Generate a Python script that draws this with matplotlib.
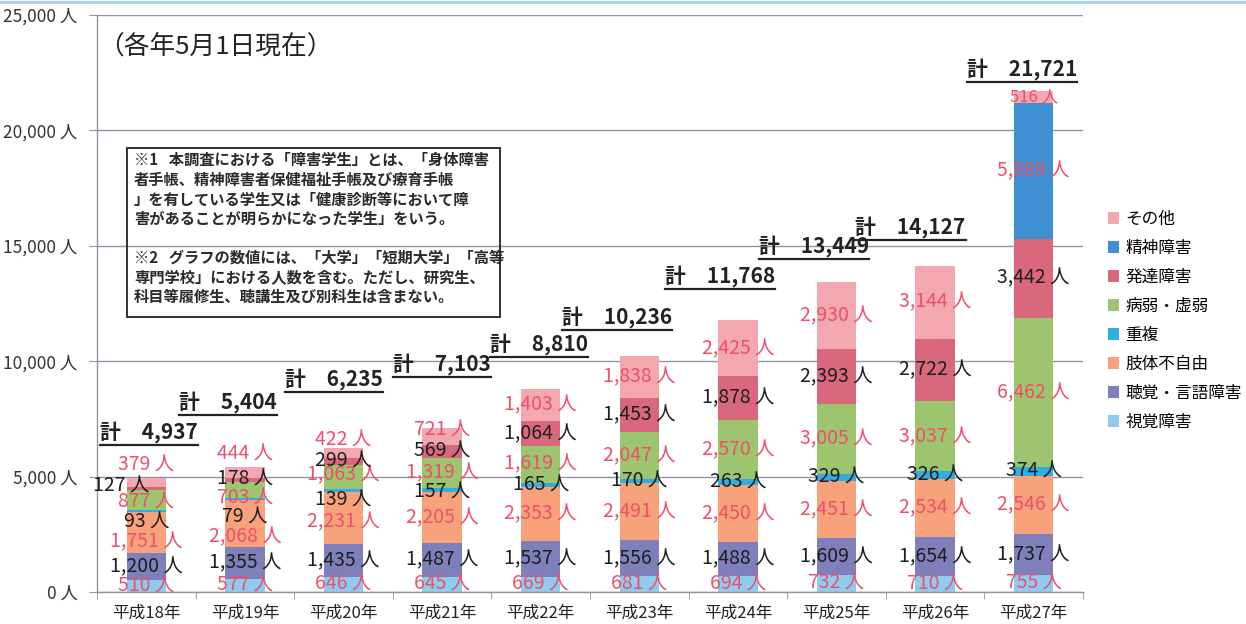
import matplotlib
matplotlib.use("Agg")
import matplotlib.pyplot as plt
from matplotlib.patches import Rectangle
from matplotlib.lines import Line2D
import numpy as np

plt.rcParams['font.family'] = ['Noto Sans CJK JP', 'DejaVu Sans']

years = ["平成18年", "平成19年", "平成20年", "平成21年", "平成22年",
         "平成23年", "平成24年", "平成25年", "平成26年", "平成27年"]
categories = ["視覚障害", "聴覚・言語障害", "肢体不自由", "重複",
              "病弱・虚弱", "発達障害", "精神障害", "その他"]

visual = [510, 577, 646, 645, 669, 681, 694, 732, 710, 755]
hearing = [1200, 1355, 1435, 1487, 1537, 1556, 1488, 1609, 1654, 1737]
physical = [1751, 2068, 2231, 2205, 2353, 2491, 2450, 2451, 2534, 2546]
multiple = [93, 79, 139, 157, 165, 170, 263, 329, 326, 374]
illness = [877, 703, 1063, 1319, 1619, 2047, 2570, 3005, 3037, 6462]
developmental = [127, 178, 299, 569, 1064, 1453, 1878, 2393, 2722, 3442]
mental = [0, 0, 0, 0, 0, 0, 0, 0, 0, 5889]
other = [379, 444, 422, 721, 1403, 1838, 2425, 2930, 3144, 516]
totals = [4937, 5404, 6235, 7103, 8810, 10236, 11768, 13449, 14127, 21721]

series = [visual, hearing, physical, multiple, illness, developmental, mental, other]
colors = ["#8ECBEC", "#7F7FBC", "#F8A27C", "#2FAEDF",
          "#9DC46E", "#D9687C", "#3F8FD3", "#F3A8B0"]
RED = "#EE4F6A"
DARK = "#1E1E1E"
label_colors = [RED, DARK, RED, DARK, RED, DARK, RED, RED]

# hand placed nudges for crowded labels: (year, category) -> (dx, dy)
nudge = {
    (0, 2): (0, -420), (0, 3): (0, -480), (0, 4): (0, -90), (0, 5): (-0.25, 100), (0, 7): (0, 750),
    (1, 2): (0, -560), (1, 3): (0, -790), (1, 4): (0, -360), (1, 7): (0, 800),
    (2, 2): (0, -150), (2, 3): (0, -400), (2, 4): (0, 80), (2, 7): (0, 560),
    (3, 3): (0, -90), (3, 7): (0, 270),
}
# total label placement: (dx, lift above bar top)
total_pos = [(0.03, 1950), (-0.17, 2780), (-0.1, 2945), (0.0, 2726), (-0.02, 1885),
             (-0.23, 1628), (-0.18, 1870), (-0.23, 1490), (-0.25, 1634), (-0.12, 882)]

fig = plt.figure(figsize=(12.46, 6.24), dpi=100)
ax = fig.add_axes([97 / 1246, 32 / 624, 986 / 1246, 577 / 624])

x = np.arange(len(years))
bottom = np.zeros(len(years))
for ci, (vals, col, name) in enumerate(zip(series, colors, categories)):
    vals = np.array(vals)
    ax.bar(x, vals, 0.4, bottom=bottom, color=col, label=name, zorder=2)
    for i, v in enumerate(vals):
        if v == 0:
            continue
        dx, dy = nudge.get((i, ci), (0, 0))
        fs = 12 if (ci == 7 and i == 9) else 14
        ax.text(x[i] + dx, bottom[i] + v / 2 + dy, f"{v:,} 人", ha="center", va="center",
                fontsize=fs, color=label_colors[ci], zorder=3)
    bottom += vals

ax.set_xlim(-0.5, 9.5)
ax.set_ylim(0, 25000)
ax.set_yticks(range(0, 25001, 5000))
ax.set_yticklabels([f"{v:,} 人" for v in range(0, 25001, 5000)], fontsize=12.5, color="#333333")
ax.set_xticks(x)
ax.set_xticklabels(years, fontsize=12, color="#222222")
ax.set_xticks(np.arange(-0.5, 10, 1), minor=True)
ax.tick_params(axis="x", which="major", length=0, pad=9)
ax.tick_params(axis="x", which="minor", length=5, color="#8A96A3")
ax.tick_params(axis="y", length=6, color="#8A96A3", pad=8)
ax.yaxis.grid(True, color="#8A96A3", linewidth=1.0, zorder=0)
ax.set_axisbelow(True)
for s in ["top", "right"]:
    ax.spines[s].set_visible(False)
for s in ["left", "bottom"]:
    ax.spines[s].set_color("#8A96A3")
    ax.spines[s].set_linewidth(1.0)

# totals with underline
total_texts = []
for i, t in enumerate(totals):
    dx, lift = total_pos[i]
    tt = ax.text(x[i] + dx, t + lift, f"計　{t:,}", ha="center", va="center",
                 fontsize=15, fontweight="bold", color="#222222", zorder=4)
    total_texts.append(tt)

ax.text(0.001, 0.945, "（各年5月1日現在）", transform=ax.transAxes, fontsize=18.5,
        ha="left", va="center", color="#222222")

# note box
fig.add_artist(Rectangle((127 / 1246, 1 - 317 / 624), 373 / 1246, 169 / 624,
                         transform=fig.transFigure, fill=False, edgecolor="#222222",
                         linewidth=1.3, zorder=5))
note1 = ("※1   本調査における「障害学生」とは、「身体障害\n"
         "者手帳、精神障害者保健福祉手帳及び療育手帳\n"
         "」を有している学生又は「健康診断等において障\n"
         "害があることが明らかになった学生」をいう。")
note2 = ("※2   グラフの数値には、「大学」「短期大学」「高等\n"
         "専門学校」における人数を含む。ただし、研究生、\n"
         "科目等履修生、聴講生及び別科生は含まない。")
fig.text(134 / 1246, 1 - 152 / 624, note1, fontsize=11, fontweight="bold", ha="left",
         va="top", linespacing=1.28, color="#2A2A2A")
fig.text(134 / 1246, 1 - 250 / 624, note2, fontsize=11, fontweight="bold", ha="left",
         va="top", linespacing=1.28, color="#2A2A2A")

handles, labels = ax.get_legend_handles_labels()
fig.legend(handles[::-1], labels[::-1], loc="upper left", bbox_to_anchor=(0.877, 0.686),
           frameon=False, fontsize=12, handlelength=0.7, handleheight=0.7,
           handletextpad=0.35, labelspacing=0.72)

# thin frame line along the top edge
fig.add_artist(Line2D([0, 1], [0.997, 0.997], transform=fig.transFigure,
                      color="#A9CFEA", linewidth=2))

fig.canvas.draw()
renderer = fig.canvas.get_renderer()
for tt in total_texts:
    bb = tt.get_window_extent(renderer)
    y = bb.y0 - 1
    fig.add_artist(Line2D([bb.x0, bb.x1], [y, y], transform=None,
                          color="#222222", linewidth=1.6))

fig.savefig("out.png", dpi=100)
